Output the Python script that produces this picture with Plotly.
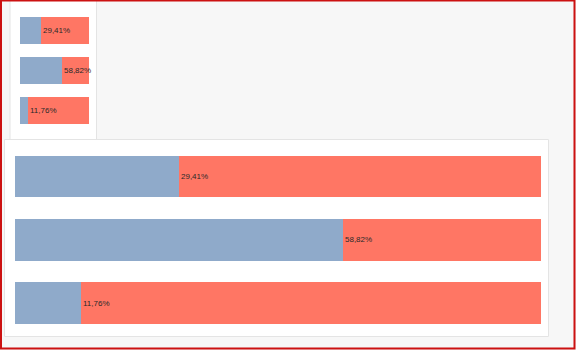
import plotly.graph_objects as go

# Share of each group (fraction of the whole) and the labels shown beside the bars
groups = ["A", "B", "C"]
shares = [0.2941, 0.5882, 0.1176]
labels = ["29,41%", "58,82%", "11,76%"]
rest = [1 - s for s in shares]

W, H = 576, 350
BLUE = "#8FAACA"
RED = "#FF7664"


def px(x):
    return x / W


def py(y):
    return 1 - y / H


fig = go.Figure()

# Two copies of the same stacked bar chart: a small preview and a large view
views = [
    dict(xa="x", ya="y", xdom=(20, 89), ydom=(10.5, 130.5), xmax=0.966, bw=0.675),
    dict(xa="x2", ya="y2", xdom=(15, 541), ydom=(144.8, 334.7), xmax=0.943, bw=0.66),
]

for v in views:
    ypos = list(range(len(groups)))
    fig.add_trace(go.Bar(
        x=shares, y=ypos, orientation="h", marker=dict(color=BLUE, line=dict(width=0)),
        width=v["bw"], xaxis=v["xa"], yaxis=v["ya"], hoverinfo="skip", showlegend=False,
    ))
    fig.add_trace(go.Bar(
        x=rest, y=ypos, orientation="h", marker=dict(color=RED, line=dict(width=0)),
        width=v["bw"], xaxis=v["xa"], yaxis=v["ya"], hoverinfo="skip", showlegend=False,
    ))
    for i, (s, lab) in enumerate(zip(shares, labels)):
        fig.add_annotation(
            x=s, y=i, xref=v["xa"], yref=v["ya"], text=lab, showarrow=False,
            xanchor="left", yanchor="middle", xshift=0,
            font=dict(family="Liberation Sans, Arial, sans-serif", size=8, color="#2a2a2a"),
        )

axis_common = dict(showgrid=False, zeroline=False, showticklabels=False, showline=False, ticks="", fixedrange=True)
fig.update_layout(
    width=W, height=H,
    margin=dict(l=0, r=0, t=0, b=0),
    paper_bgcolor="#F7F7F7",
    plot_bgcolor="rgba(0,0,0,0)",
    barmode="stack",
    xaxis=dict(domain=[px(20), px(89)], range=[0, views[0]["xmax"]], anchor="y", **axis_common),
    yaxis=dict(domain=[py(130.5), py(10.5)], range=[2.5, -0.5], anchor="x", **axis_common),
    xaxis2=dict(domain=[px(15), px(541)], range=[0, views[1]["xmax"]], anchor="y2", **axis_common),
    yaxis2=dict(domain=[py(334.7), py(144.8)], range=[2.5, -0.5], anchor="x2", **axis_common),
    shapes=[
        # white panels behind each chart
        dict(type="rect", xref="paper", yref="paper", layer="below",
             x0=px(10), x1=px(96.5), y0=py(142), y1=py(-2),
             fillcolor="white", line=dict(color="#E4E4E4", width=1)),
        dict(type="rect", xref="paper", yref="paper", layer="below",
             x0=px(4.5), x1=px(548.5), y0=py(336.5), y1=py(139.5),
             fillcolor="white", line=dict(color="#E4E4E4", width=1)),
        # outer frame
        dict(type="rect", xref="paper", yref="paper", layer="above",
             x0=px(1), x1=px(574.5), y0=py(348.5), y1=py(0.5),
             fillcolor="rgba(0,0,0,0)", line=dict(color="#CC1111", width=2)),
    ],
)

fig.write_html("out.html")
